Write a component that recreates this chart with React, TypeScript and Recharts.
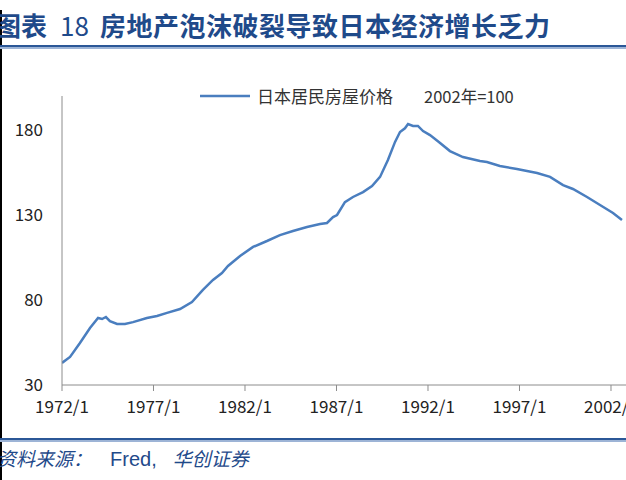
import { LineChart, Line, XAxis, YAxis, Legend } from 'recharts';

// decimal years
const years = [
  1972.0, 1972.44, 1972.98, 1973.53, 1973.97, 1974.19, 1974.4, 1974.62, 1975.01, 1975.44,
  1975.88, 1976.64, 1977.19, 1977.74, 1978.45, 1979.1, 1979.7, 1980.25, 1980.74, 1981.07,
  1981.73, 1982.44, 1983.2, 1983.91, 1984.62, 1985.39, 1986.1, 1986.48, 1986.81, 1987.03,
  1987.46, 1987.9, 1988.45, 1988.94, 1989.38, 1989.81, 1990.2, 1990.47, 1990.74, 1990.91,
  1991.18, 1991.45, 1991.73, 1992.11, 1992.66, 1993.2, 1993.91, 1994.84, 1995.22, 1995.93,
  1996.86, 1997.41, 1997.96, 1998.67, 1999.38, 1999.92, 2000.69, 2001.4, 2002.11, 2002.6,
];

// 日本居民房屋价格 (2002年=100)
const housePrice = [
  43, 46.5, 54.7, 63.5, 69.4, 68.8, 70, 67.6, 65.9, 65.9,
  67, 69.4, 70.6, 72.4, 74.7, 78.8, 85.9, 91.8, 95.9, 100,
  105.9, 111.2, 114.7, 118.2, 120.6, 122.9, 124.7, 125.3, 128.8, 130,
  137.6, 140.6, 143.5, 147, 152.4, 162.4, 173, 178.8, 181, 183.5,
  182.4, 182.4, 179.4, 177, 172.4, 167.6, 164.1, 161.8, 161.2, 158.8,
  157, 155.9, 154.7, 152.4, 147.6, 145.3, 140.6, 135.9, 131.2, 127,
];

const xTicks = [1972, 1977, 1982, 1987, 1992, 1997, 2002];
const yTicks = [30, 80, 130, 180];

const data = years.map((t, i) => ({ t, price: housePrice[i] }));

const BLUE = '#4A7EBF';
const NAVY = '#1F4A8A';
const FONT = '"Noto Sans CJK SC", "Noto Sans", sans-serif';

function LegendContent() {
  return (
    <div
      style={{
        position: 'relative',
        width: 330,
        height: 20,
        whiteSpace: 'nowrap',
        fontSize: 17,
        lineHeight: '20px',
        color: '#333',
        fontFamily: FONT,
      }}
    >
      <svg width={50} height={4} style={{ position: 'absolute', left: 0, top: 8 }}>
        <line x1={0} y1={2} x2={50} y2={2} stroke={BLUE} strokeWidth={2.5} />
      </svg>
      <span style={{ position: 'absolute', left: 57, top: 0 }}>日本居民房屋价格</span>
      <span style={{ position: 'absolute', left: 224, top: 0, fontSize: 16.5 }}>2002年=100</span>
    </div>
  );
}

function DoubleRule({ top }: { top: number }) {
  return (
    <div style={{ position: 'absolute', left: 0, top, width: 626 }}>
      <div style={{ height: 2, background: '#2B5797' }} />
      <div style={{ height: 2, background: '#9DB4D6' }} />
    </div>
  );
}

export default function App() {
  return (
    <div
      style={{
        position: 'absolute',
        left: 0,
        top: 0,
        width: 626,
        height: 480,
        overflow: 'hidden',
        background: '#fff',
        fontFamily: FONT,
      }}
    >
      <div style={{ position: 'absolute', left: 0, top: 10, width: 2, height: 470, background: '#000' }} />

      <div style={{ color: NAVY, fontSize: 26, fontWeight: 700, lineHeight: '26px' }}>
        <span style={{ position: 'absolute', left: -5, top: 12 }}>图表</span>
        <span style={{ position: 'absolute', left: 60, top: 12, fontWeight: 400 }}>18</span>
        <span style={{ position: 'absolute', left: 100, top: 12, letterSpacing: 0.5 }}>
          房地产泡沫破裂导致日本经济增长乏力
        </span>
      </div>
      <DoubleRule top={45} />

      <div style={{ position: 'absolute', left: 0, top: 0 }}>
        <LineChart width={626} height={420} data={data} margin={{ top: 96, right: 0, left: 0, bottom: 0 }}>
          <XAxis
            type="number"
            dataKey="t"
            domain={[1972, 2002.82]}
            ticks={xTicks}
            interval={0}
            allowDataOverflow
            tickFormatter={(v) => `${v}/1`}
            height={35}
            stroke="#8c8c8c"
            tickSize={6}
            tickMargin={10}
            tick={{ fill: '#222', fontSize: 17, fontFamily: FONT }}
          />
          <YAxis
            type="number"
            domain={[30, 200]}
            ticks={yTicks}
            interval={0}
            width={62}
            stroke="#8c8c8c"
            tickLine={false}
            tickMargin={13}
            tick={{ fill: '#222', fontSize: 17, fontFamily: FONT }}
          />
          <Legend
            content={<LegendContent />}
            wrapperStyle={{ position: 'absolute', left: 200, top: 86, width: 0, height: 0, overflow: 'visible' }}
          />
          <Line
            type="linear"
            dataKey="price"
            name="日本居民房屋价格"
            stroke={BLUE}
            strokeWidth={2.5}
            dot={false}
            isAnimationActive={false}
          />
        </LineChart>
      </div>

      <DoubleRule top={438} />
      <div style={{ position: 'absolute', top: 446, left: -3, color: NAVY, fontSize: 19, lineHeight: '24px', whiteSpace: 'nowrap' }}>
        <span style={{ fontStyle: 'italic' }}>资料来源：</span>
        <span style={{ fontFamily: '"Liberation Sans", sans-serif', fontSize: 20, marginLeft: 18 }}>Fred,</span>
        <span style={{ fontStyle: 'italic', marginLeft: 16 }}>华创证券</span>
      </div>
    </div>
  );
}
